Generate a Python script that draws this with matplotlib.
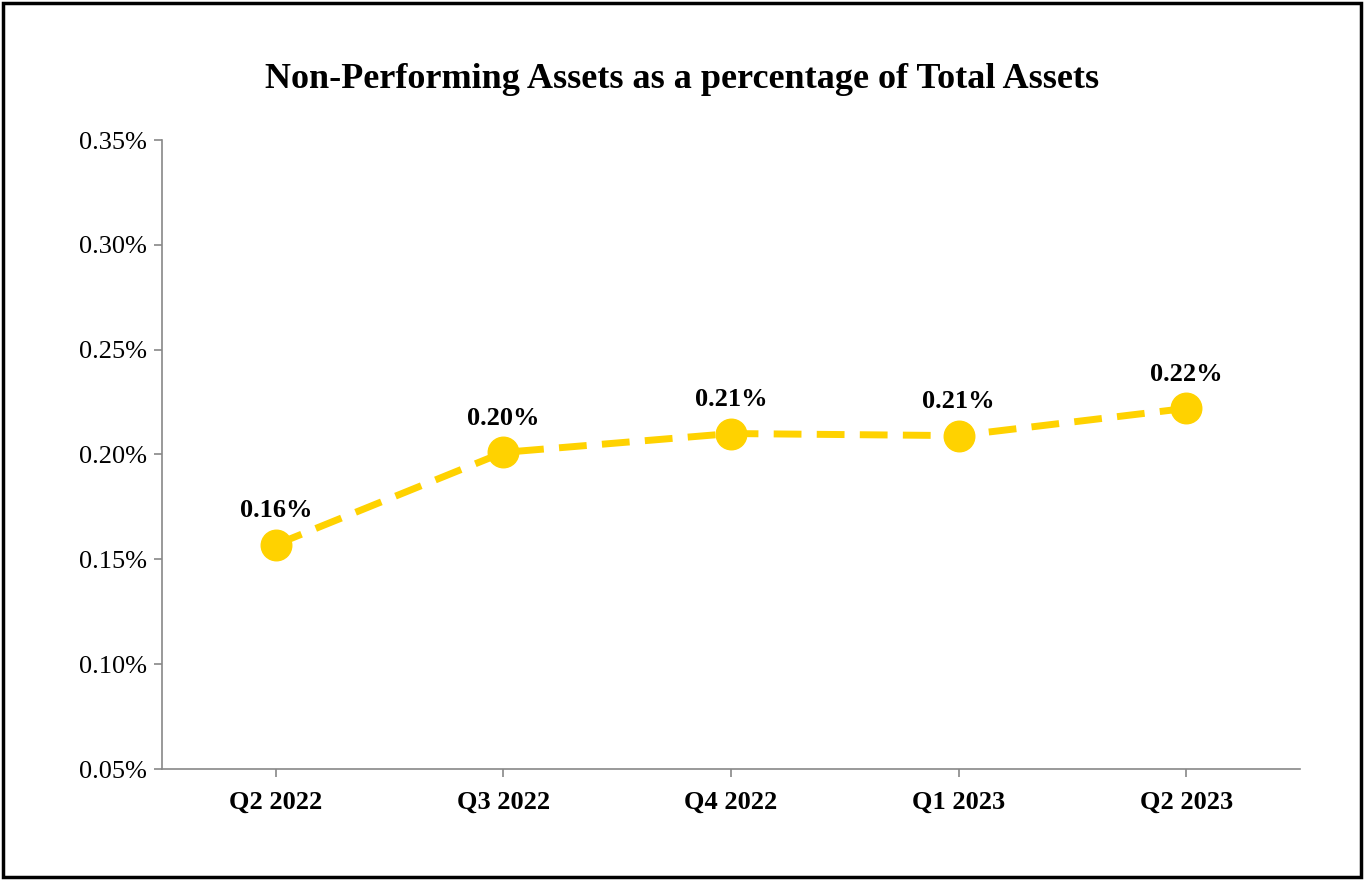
import matplotlib
matplotlib.use('Agg')
import matplotlib.pyplot as plt
from matplotlib.patches import Rectangle
from matplotlib.ticker import FuncFormatter

quarters = ['Q2 2022', 'Q3 2022', 'Q4 2022', 'Q1 2023', 'Q2 2023']
npa_pct = [0.157, 0.201, 0.210, 0.209, 0.222]
labels = ['0.16%', '0.20%', '0.21%', '0.21%', '0.22%']

plt.rcParams['font.family'] = ['Liberation Serif', 'DejaVu Serif']

fig = plt.figure(figsize=(13.64, 8.8), dpi=100)
ax = fig.add_axes([162/1364, 111/880, 1138/1364, 629/880])

x = list(range(len(quarters)))
ax.plot(x, npa_pct, color='#FFD200', lw=5, dashes=(4, 2.2),
        marker='o', markersize=22, markeredgecolor='#FFD200')
for xi, v, t in zip(x, npa_pct, labels):
    ax.annotate(t, (xi, v), xytext=(0, 16), textcoords='offset points',
                ha='center', va='bottom', fontsize=19, fontweight='bold')

ax.set_xlim(-0.5, len(quarters) - 0.5)
ax.set_ylim(0.05, 0.35)
ax.set_yticks([0.05, 0.10, 0.15, 0.20, 0.25, 0.30, 0.35])
ax.yaxis.set_major_formatter(FuncFormatter(lambda v, p: '%.2f%%' % v))
ax.set_xticks(x)
ax.set_xticklabels(quarters, fontweight='bold')
ax.tick_params(axis='both', labelsize=19, color='#888888', length=6, width=1.2)
ax.tick_params(axis='x', pad=10)
ax.tick_params(axis='y', pad=5)
for s in ['top', 'right']:
    ax.spines[s].set_visible(False)
for s in ['left', 'bottom']:
    ax.spines[s].set_color('#888888')
    ax.spines[s].set_linewidth(1.2)

fig.text(0.5, 1 - 80/880, 'Non-Performing Assets as a percentage of Total Assets',
         ha='center', va='center', fontsize=26, fontweight='bold')

fig.patches.append(Rectangle((3/1364, 3/880), 1358/1364, 874/880, transform=fig.transFigure,
                             fill=False, edgecolor='black', linewidth=2.5))

fig.savefig('out.png', dpi=100)
